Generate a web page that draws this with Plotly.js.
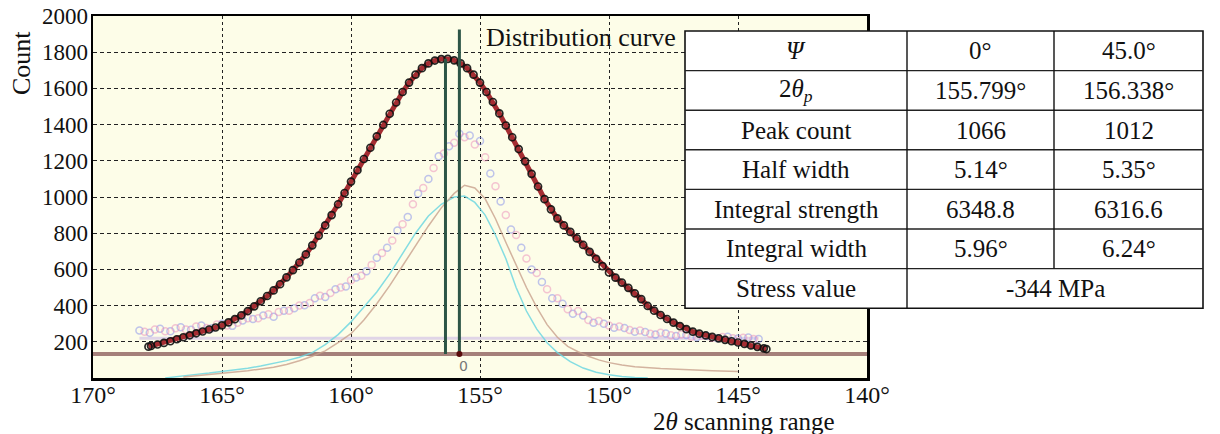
<!DOCTYPE html>
<html>
<head>
<meta charset="utf-8">
<script src="https://cdn.plot.ly/plotly-3.0.1.min.js"></script>
<style>html,body{margin:0;padding:0;background:#fff;}#chart{width:1220px;height:434px;}</style>
</head>
<body>
<div id="chart"></div>
<script>
// ---------------- data ----------------
const xTicks = [170, 165, 160, 155, 150, 145, 140];
const xTickLabels = ['170°', '165°', '160°', '155°', '150°', '145°', '140°'];
const yTicks = [200, 400, 600, 800, 1000, 1200, 1400, 1600, 1800, 2000];
const yTickLabels = ['200', '400', '600', '800', '1000', '1200', '1400', '1600', '1800', '2000'];

// fitted distribution curve
const mainX = [167.85,167.75,167.5,167.25,167,166.75,166.5,166.25,166,165.75,165.5,165.25,165,164.75,164.5,164.25,164,163.75,163.5,163.25,163,162.75,162.5,162.25,162,161.75,161.5,161.25,161,160.75,160.5,160.25,160,159.75,159.5,159.25,159,158.75,158.5,158.25,158,157.75,157.5,157.25,157,156.75,156.5,156.25,156,155.75,155.5,155.25,155,154.75,154.5,154.25,154,153.75,153.5,153.25,153,152.75,152.5,152.25,152,151.75,151.5,151.25,151,150.75,150.5,150.25,150,149.75,149.5,149.25,149,148.75,148.5,148.25,148,147.75,147.5,147.25,147,146.75,146.5,146.25,146,145.75,145.5,145.25,145,144.75,144.5,144.25,144,143.9];
const mainY = [173,177,185,194,203,214,225,236,247,257,268,279,291,307,325,346,370,396,424,453,484,518,556,596,638,683,733,787,843,900,960,1022,1085,1148,1210,1272,1335,1398,1460,1522,1580,1632,1676,1712,1738,1754,1762,1763,1755,1738,1712,1676,1632,1580,1525,1462,1395,1330,1265,1197,1128,1058,988,932,882,843,807,771,735,697,658,618,583,555,527,498,468,436,398,372,348,326,306,287,270,256,245,235,227,219,211,203,196,188,180,172,164,160];

// faint raw measurement points
const blueX = [168.2,167.8,167.4,167.0,166.6,166.2,165.8,165.4,165.0,164.6,164.2,163.8,163.4,163.0,162.6,162.2,161.8,161.4,161.0,160.6,160.2,159.8,159.4,159.0,158.6,158.2,157.8,157.4,157.0,156.6,156.2,155.8,155.4,155.0,154.6,154.2,153.8,153.4,153.0,152.6,152.2,151.8,151.4,151.0,150.6,150.2,149.8,149.4,149.0,148.6,148.2,147.8,147.4,147.0,146.6,146.2,145.8,145.4,145.0,144.6,144.2];
const blueY = [262,250,272,258,281,266,290,275,300,288,318,326,345,338,372,385,402,440,448,490,505,555,590,665,720,815,890,1020,1100,1225,1280,1350,1340,1310,1130,975,820,720,600,530,440,410,355,345,305,300,278,276,255,254,240,246,232,238,225,232,220,228,218,224,216];
const pinkX = [168.0,167.6,167.2,166.8,166.4,166.0,165.6,165.2,164.8,164.4,164.0,163.6,163.2,162.8,162.4,162.0,161.6,161.2,160.8,160.4,160.0,159.6,159.2,158.8,158.4,158.0,157.6,157.2,156.8,156.4,156.0,155.6,155.2,154.8,154.4,154.0,153.6,153.2,152.8,152.4,152.0,151.6,151.2,150.8,150.4,150.0,149.6,149.2,148.8,148.4,148.0,147.6,147.2,146.8,146.4,146.0,145.6,145.2,144.8,144.4];
const pinkY = [255,268,258,275,268,285,276,295,290,305,330,330,352,365,372,400,415,455,470,500,540,565,625,690,760,850,960,1050,1160,1240,1300,1330,1290,1220,1060,900,790,660,580,490,440,380,370,320,315,290,285,265,262,245,250,236,240,228,234,222,226,220,222,215];

// faint profile lines
const cyanX = [167.2,166.8,166.4,166,165.5,165,164.5,164,163.5,163,162.5,162,161.5,161,160.5,160,159.5,159,158.5,158,157.5,157,156.5,156,155.6,155.2,154.8,154.4,154,153.6,153.2,152.8,152.4,152,151.5,151,150.5,150,149.5,149,148.5];
const cyanY = [0,8,14,20,27,35,44,54,66,80,96,115,140,185,240,310,395,475,575,690,800,895,960,1000,1005,970,900,790,660,500,370,270,195,140,90,55,32,18,8,3,0];
const tanX = [166.5,166,165,164,163,162.5,162,161.5,161,160.5,160,159.5,159,158.5,158,157.5,157,156.5,156,155.6,155.2,154.8,154.4,154,153.6,153.2,152.8,152.4,152,151.6,151.2,150.8,150.4,150,149.5,149,148,147,146,145];
const tanY = [5,12,25,40,60,75,95,120,150,195,245,320,410,510,620,730,840,940,1020,1065,1050,990,880,750,620,500,390,295,225,175,145,120,100,85,72,62,52,45,40,36];

// background levels
const baselineX = [170, 140];
const baselineY = [132, 132];
const bandX = [168.2, 144.2];
const bandY = [220, 220];

// peak positions (Ψ = 0°, Ψ = 45°) and the top of each marker line
const peakPos = [155.799, 156.338];
const peakTop = [1925, 1764];

// table
const rowLabels = ['<i>Ψ</i>', '2<i>θ</i><sub><i>p</i></sub>', 'Peak count', 'Half width', 'Integral strength', 'Integral width', 'Stress value'];
const colPsi0 = ['0°', '155.799°', '1066', '5.14°', '6348.8', '5.96°'];
const colPsi45 = ['45.0°', '156.338°', '1012', '5.35°', '6316.6', '6.24°'];
const stressValue = '-344 MPa';

// ---------------- layout helpers ----------------
const L = 93, T = 16, W = 774, H = 362;
const px = v => (v - L) / W;
const py = v => (T + H - v) / H;
const SERIF = '"Liberation Serif", "Times New Roman", serif';

const traces = [
  {x: baselineX, y: baselineY, mode: 'lines', line: {color: 'rgb(165,128,122)', width: 4}, hoverinfo: 'skip'},
  {x: bandX, y: bandY, mode: 'lines', line: {color: 'rgba(200,180,230,0.55)', width: 3}, hoverinfo: 'skip'},
  {x: blueX, y: blueY, mode: 'markers', marker: {symbol: 'circle-open', size: 7, color: 'rgba(130,140,235,0.5)', line: {width: 1.5}}},
  {x: pinkX, y: pinkY, mode: 'markers', marker: {symbol: 'circle-open', size: 7, color: 'rgba(235,140,185,0.5)', line: {width: 1.5}}},
  {x: cyanX, y: cyanY, mode: 'lines', line: {color: 'rgba(110,215,225,0.85)', width: 1.5}},
  {x: tanX, y: tanY, mode: 'lines', line: {color: 'rgba(200,160,140,0.8)', width: 1.5}},
  {x: mainX, y: mainY, mode: 'lines', line: {color: 'rgb(165,45,50)', width: 5}},
  {x: mainX, y: mainY, mode: 'markers',
   marker: {symbol: 'circle-open', size: 7, color: 'rgba(15,15,15,0.9)', line: {width: 1.7}}},
  {x: [peakPos[0], peakPos[0]], y: [baselineY[0], peakTop[0]], mode: 'lines', line: {color: 'rgb(45,85,70)', width: 3}},
  {x: [peakPos[1], peakPos[1]], y: [baselineY[0], peakTop[1]], mode: 'lines', line: {color: 'rgb(45,85,70)', width: 3}},
  {x: [peakPos[0]], y: [baselineY[0]], mode: 'markers', marker: {size: 6, color: 'rgb(90,10,10)'}}
];

// table geometry (pixels)
const tL = 685, tR = 1203, tTop = 31, rowH = 39.6;
const colEdges = [tL, 907, 1054, tR];
const nRows = rowLabels.length;
const tBot = tTop + rowH * nRows;

const shapes = [];
const annotations = [];
shapes.push({type: 'rect', xref: 'paper', yref: 'paper', x0: px(tL), x1: px(tR), y0: py(tBot), y1: py(tTop),
  fillcolor: '#ffffff', line: {color: '#111', width: 1.6}, layer: 'above'});
for (let i = 1; i < nRows; i++) {
  const y = tTop + rowH * i;
  shapes.push({type: 'line', xref: 'paper', yref: 'paper', x0: px(tL), x1: px(tR), y0: py(y), y1: py(y), line: {color: '#222', width: 1.4}, layer: 'above'});
}
shapes.push({type: 'line', xref: 'paper', yref: 'paper', x0: px(colEdges[1]), x1: px(colEdges[1]), y0: py(tBot), y1: py(tTop), line: {color: '#111', width: 1.4}, layer: 'above'});
shapes.push({type: 'line', xref: 'paper', yref: 'paper', x0: px(colEdges[2]), x1: px(colEdges[2]), y0: py(tTop + rowH * (nRows - 1)), y1: py(tTop), line: {color: '#111', width: 1.4}, layer: 'above'});

const cellFont = {family: SERIF, size: 25, color: '#111'};
const cx = [(colEdges[0] + colEdges[1]) / 2, (colEdges[1] + colEdges[2]) / 2, (colEdges[2] + colEdges[3]) / 2];
for (let i = 0; i < nRows; i++) {
  const yc = py(tTop + rowH * (i + 0.5));
  annotations.push({xref: 'paper', yref: 'paper', x: px(cx[0]), y: yc, text: rowLabels[i], showarrow: false, font: cellFont, xanchor: 'center', yanchor: 'middle'});
  if (i < nRows - 1) {
    annotations.push({xref: 'paper', yref: 'paper', x: px(cx[1]), y: yc, text: colPsi0[i], showarrow: false, font: cellFont, xanchor: 'center', yanchor: 'middle'});
    annotations.push({xref: 'paper', yref: 'paper', x: px(cx[2]), y: yc, text: colPsi45[i], showarrow: false, font: cellFont, xanchor: 'center', yanchor: 'middle'});
  } else {
    annotations.push({xref: 'paper', yref: 'paper', x: px((colEdges[1] + colEdges[3]) / 2), y: yc, text: stressValue, showarrow: false, font: cellFont, xanchor: 'center', yanchor: 'middle'});
  }
}
annotations.push({xref: 'paper', yref: 'paper', x: px(484), y: py(38), text: 'Distribution curve', showarrow: false, xanchor: 'left', yanchor: 'middle', font: {family: SERIF, size: 26, color: '#111'}});
annotations.push({xref: 'paper', yref: 'paper', x: px(744), y: py(421), text: '2<i>θ</i> scanning range', showarrow: false, xanchor: 'center', yanchor: 'middle', font: {family: SERIF, size: 25, color: '#111'}});
annotations.push({xref: 'paper', yref: 'paper', x: px(22), y: py(63), text: 'Count', textangle: -90, showarrow: false, xanchor: 'center', yanchor: 'middle', font: {family: SERIF, size: 26, color: '#111'}});
annotations.push({xref: 'x', yref: 'y', x: 155.65, y: 68, text: '0', showarrow: false, font: {family: 'DejaVu Sans', size: 14, color: '#777'}});

const layout = {
  width: 1220, height: 434,
  margin: {l: L, r: 1220 - L - W, t: T, b: 434 - T - H, pad: 0},
  paper_bgcolor: '#ffffff',
  plot_bgcolor: 'rgb(253,253,232)',
  showlegend: false,
  font: {family: SERIF, color: '#111'},
  xaxis: {range: [170, 140], tickmode: 'array', tickvals: xTicks, ticktext: xTickLabels, showgrid: true, gridcolor: '#222', gridwidth: 1, griddash: '3px,3px',
    zeroline: false, showline: true, linecolor: '#000', linewidth: 2.5, mirror: true, ticks: '', ticklabelstandoff: -6,
    tickfont: {family: SERIF, size: 24, color: '#111'}},
  yaxis: {range: [0, 2000], tickmode: 'array', tickvals: yTicks, ticktext: yTickLabels, showgrid: true, gridcolor: '#222', gridwidth: 1, griddash: '4px,3px',
    zeroline: false, showline: true, linecolor: '#000', linewidth: 2.5, mirror: true, ticks: '', ticklabelstandoff: -2,
    tickfont: {family: SERIF, size: 23, color: '#111'}},
  shapes: shapes,
  annotations: annotations
};

Plotly.newPlot('chart', traces, layout, {displayModeBar: false, staticPlot: true});
</script>
</body>
</html>
